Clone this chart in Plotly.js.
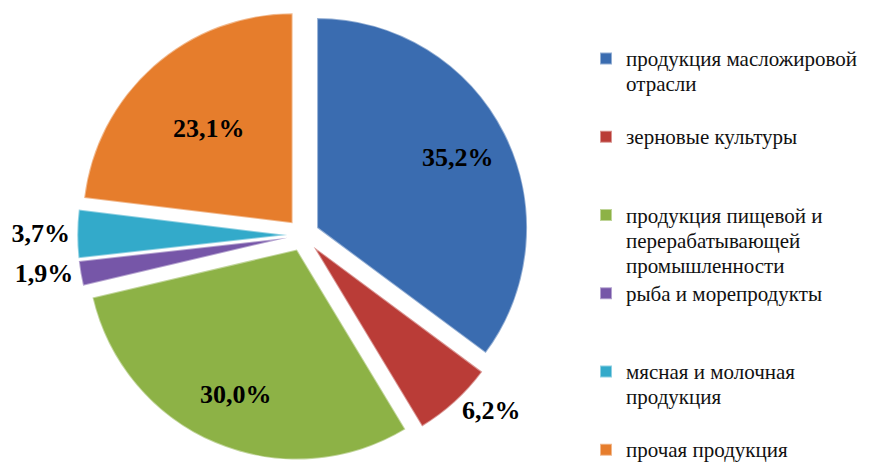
<!DOCTYPE html>
<html>
<head>
<meta charset="utf-8">
<script src="https://cdn.plot.ly/plotly-3.0.1.min.js"></script>
<style>html,body{margin:0;padding:0;background:#fff;}#chart{width:871px;height:470px;}</style>
</head>
<body>
<div id="chart"></div>
<script>
// ---- data ----
const categories = [
  "продукция масложировой<br>отрасли",
  "зерновые культуры",
  "продукция пищевой и<br>перерабатывающей<br>промышленности",
  "рыба и морепродукты",
  "мясная и молочная<br>продукция",
  "прочая продукция"
];
const shares = [35.2, 6.2, 30.0, 1.9, 3.7, 23.1];
const sliceColors = ["#3A6CB0", "#BA3C37", "#8DB246", "#7656A8", "#33AACA", "#E67D2C"];

// ---- styling helpers ----
const serif = "Liberation Serif, Times New Roman, serif";
const pulls = shares.map(() => 0.075);
// legend labels: slightly larger glyphs than the line pitch, padded to equal item heights
const legendLabels = categories.map((c, i) => {
  const lines = c.split("<br>").map(t => '<span style="font-size:21px">' + t + '</span>');
  if (i < categories.length - 1) {
    while (lines.length < 3) lines.push("\u00A0");
  }
  return lines.join("<br>");
});

const domain = {x: [0.0887, 0.6071], y: [0.0197, 0.9803]};

const main = {
  type: "pie",
  labels: legendLabels,
  values: shares,
  sort: false,
  direction: "clockwise",
  rotation: 0,
  pull: pulls,
  domain: domain,
  marker: {colors: sliceColors, line: {color: "rgba(255,255,255,0.45)", width: 2}},
  texttemplate: "%{value:.1f}%",
  textposition: ["none", "outside", "none", "outside", "outside", "inside"],
  insidetextorientation: "horizontal",
  textfont: {family: serif, size: 26, color: "#000", weight: "bold"},
  hoverinfo: "skip",
  showlegend: true
};

const labelsLayer = {
  type: "pie",
  labels: legendLabels,
  values: shares,
  sort: false,
  direction: "clockwise",
  rotation: 0,
  pull: pulls,
  hole: 0.5,
  domain: domain,
  marker: {colors: shares.map(() => "rgba(0,0,0,0)"), line: {width: 0}},
  texttemplate: "%{value:.1f}%",
  textposition: ["inside", "none", "inside", "none", "none", "none"],
  insidetextorientation: "horizontal",
  textfont: {family: serif, size: 26, color: "#000", weight: "bold"},
  hoverinfo: "skip",
  showlegend: false
};

const layout = {
  width: 871,
  height: 470,
  margin: {l: 0, r: 0, t: 0, b: 0},
  paper_bgcolor: "#ffffff",
  plot_bgcolor: "#ffffff",
  separators: ", ",
  showlegend: true,
  legend: {
    x: 0.6728, xanchor: "left",
    y: 0.916, yanchor: "top",
    valign: "top",
    bgcolor: "rgba(0,0,0,0)",
    font: {family: serif, size: 19.3, color: "#111"}
  }
};

Plotly.newPlot("chart", [main, labelsLayer], layout, {displayModeBar: false, staticPlot: true});
</script>
</body>
</html>
